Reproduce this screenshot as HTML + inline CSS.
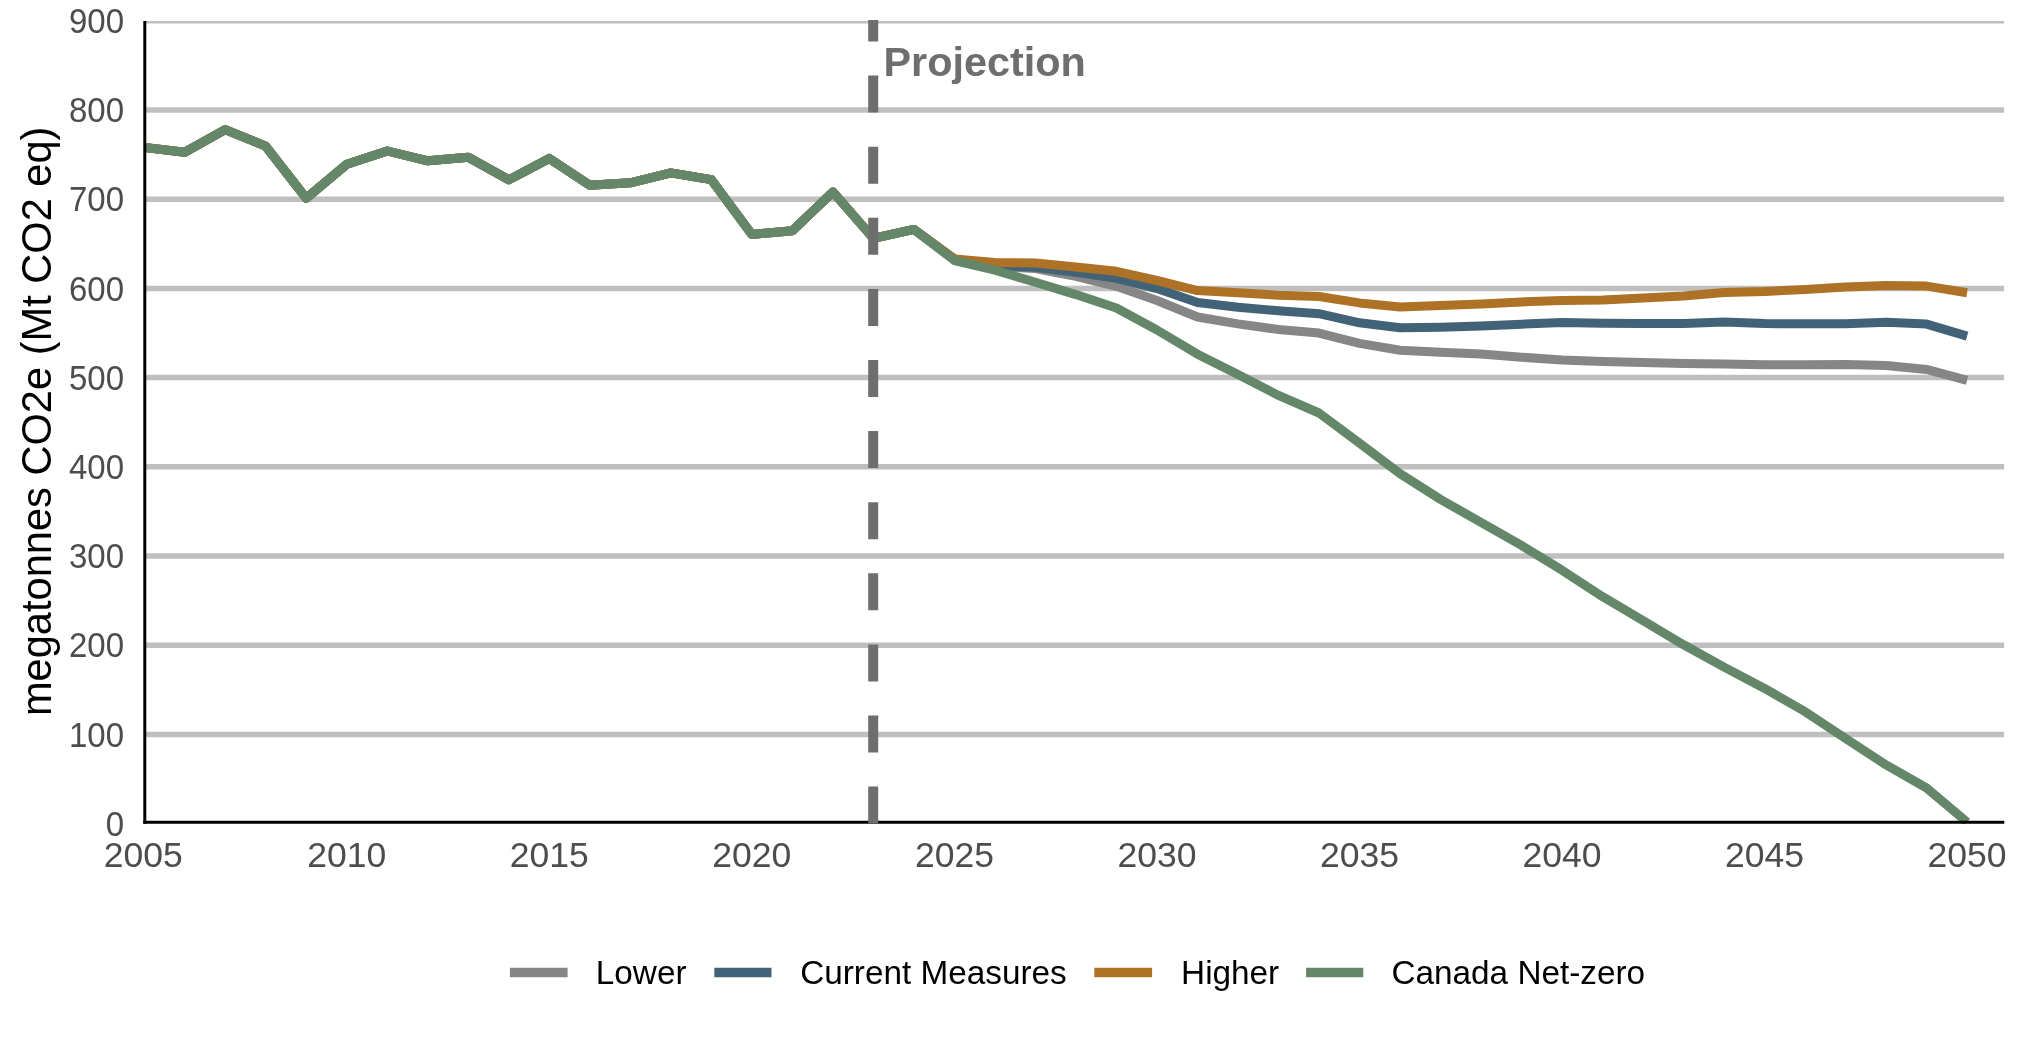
<!DOCTYPE html>
<html><head><meta charset="utf-8"><title>Chart</title>
<style>
html,body{margin:0;padding:0;background:#fff;}
body{width:2025px;height:1050px;overflow:hidden;}
svg{display:block;will-change:transform;}
text{font-family:"Liberation Sans",sans-serif;}
</style></head><body>
<svg width="2025" height="1050" viewBox="0 0 2025 1050">
<rect width="2025" height="1050" fill="#ffffff"/>
<defs>
<clipPath id="plot"><rect x="145" y="21" width="1859.3" height="803"/></clipPath>
</defs>

<g clip-path="url(#plot)" stroke="#BFBFBF" stroke-width="5.5">
<line x1="145" x2="2004.3" y1="734.40" y2="734.40"/>
<line x1="145" x2="2004.3" y1="645.20" y2="645.20"/>
<line x1="145" x2="2004.3" y1="556.00" y2="556.00"/>
<line x1="145" x2="2004.3" y1="466.80" y2="466.80"/>
<line x1="145" x2="2004.3" y1="377.60" y2="377.60"/>
<line x1="145" x2="2004.3" y1="288.40" y2="288.40"/>
<line x1="145" x2="2004.3" y1="199.20" y2="199.20"/>
<line x1="145" x2="2004.3" y1="110.00" y2="110.00"/>
<line x1="145" x2="2004.3" y1="20.80" y2="20.80"/>
</g>
<g clip-path="url(#plot)" fill="none" stroke-width="9" stroke-linejoin="round" stroke-linecap="butt">
<polyline stroke="#868686" points="144.2,147.4 184.7,152.3 225.2,129.6 265.7,146.2 306.2,198.2 346.8,164.2 387.3,151.0 427.8,160.8 468.3,157.3 508.8,179.8 549.3,158.4 589.8,185.2 630.3,182.8 670.8,172.9 711.3,179.6 751.8,234.4 792.4,230.8 832.9,191.9 873.4,238.4 913.9,229.4 954.4,259.2 994.9,266.5 1035.4,268.6 1075.9,276.4 1116.4,286.3 1157.0,300.5 1197.5,317.0 1238.0,323.9 1278.5,329.5 1319.0,333.1 1359.5,343.4 1400.0,350.3 1440.5,352.2 1481.0,354.0 1521.5,357.2 1562.0,360.1 1602.6,361.5 1643.1,362.5 1683.6,363.5 1724.1,364.1 1764.6,364.7 1805.1,364.7 1845.6,364.5 1886.1,365.5 1926.6,369.4 1967.1,380.3"/>
<polyline stroke="#426278" points="144.2,147.4 184.7,152.3 225.2,129.6 265.7,146.2 306.2,198.2 346.8,164.2 387.3,151.0 427.8,160.8 468.3,157.3 508.8,179.8 549.3,158.4 589.8,185.2 630.3,182.8 670.8,172.9 711.3,179.6 751.8,234.4 792.4,230.8 832.9,191.9 873.4,238.4 913.9,229.4 954.4,259.0 994.9,265.5 1035.4,267.2 1075.9,272.4 1116.4,278.4 1157.0,288.6 1197.5,302.5 1238.0,307.2 1278.5,310.8 1319.0,313.7 1359.5,322.8 1400.0,327.8 1440.5,327.2 1481.0,326.0 1521.5,324.2 1562.0,322.6 1602.6,323.2 1643.1,323.4 1683.6,323.6 1724.1,322.0 1764.6,323.6 1805.1,323.8 1845.6,323.8 1886.1,322.3 1926.6,324.1 1967.1,336.1"/>
<polyline stroke="#AE7227" points="144.2,147.4 184.7,152.3 225.2,129.6 265.7,146.2 306.2,198.2 346.8,164.2 387.3,151.0 427.8,160.8 468.3,157.3 508.8,179.8 549.3,158.4 589.8,185.2 630.3,182.8 670.8,172.9 711.3,179.6 751.8,234.4 792.4,230.8 832.9,191.9 873.4,238.4 913.9,229.4 954.4,259.1 994.9,262.6 1035.4,263.0 1075.9,267.1 1116.4,271.3 1157.0,280.5 1197.5,290.6 1238.0,292.8 1278.5,295.2 1319.0,296.5 1359.5,302.9 1400.0,307.0 1440.5,305.4 1481.0,304.0 1521.5,301.9 1562.0,300.4 1602.6,299.9 1643.1,297.9 1683.6,296.0 1724.1,292.4 1764.6,291.4 1805.1,289.4 1845.6,287.1 1886.1,285.5 1926.6,286.1 1967.1,292.7"/>
<polyline stroke="#638768" points="144.2,147.4 184.7,152.3 225.2,129.6 265.7,146.2 306.2,198.2 346.8,164.2 387.3,151.0 427.8,160.8 468.3,157.3 508.8,179.8 549.3,158.4 589.8,185.2 630.3,182.8 670.8,172.9 711.3,179.6 751.8,234.4 792.4,230.8 832.9,191.9 873.4,238.4 913.9,229.4 954.4,260.5 994.9,270.2 1035.4,282.3 1075.9,294.6 1116.4,308.0 1157.0,330.0 1197.5,354.2 1238.0,374.6 1278.5,395.4 1319.0,413.0 1359.5,443.2 1400.0,473.6 1440.5,499.4 1481.0,522.4 1521.5,545.4 1562.0,570.2 1602.6,596.7 1643.1,620.6 1683.6,644.8 1724.1,667.1 1764.6,688.4 1805.1,711.7 1845.6,738.4 1886.1,764.9 1926.6,788.0 1967.1,822.1"/>
</g>
<line x1="144.8" x2="144.8" y1="21" y2="823.7" stroke="#000" stroke-width="3"/>
<line x1="143.3" x2="2004.3" y1="822.2" y2="822.2" stroke="#000" stroke-width="3"/>
<line x1="873.2" x2="873.2" y1="823.6" y2="20" stroke="#6E6E6E" stroke-width="10" stroke-dasharray="37 34.1"/>
<text x="883.5" y="76.2" font-size="41.4" font-weight="bold" fill="#6E6E6E">Projection</text>
<g font-size="33" fill="#4D4D4D" text-anchor="end">
<text transform="translate(124.0,835.7) scale(1,1.045)">0</text>
<text transform="translate(124.0,746.5) scale(1,1.045)">100</text>
<text transform="translate(124.0,657.3) scale(1,1.045)">200</text>
<text transform="translate(124.0,568.1) scale(1,1.045)">300</text>
<text transform="translate(124.0,478.9) scale(1,1.045)">400</text>
<text transform="translate(124.0,389.7) scale(1,1.045)">500</text>
<text transform="translate(124.0,300.5) scale(1,1.045)">600</text>
<text transform="translate(124.0,211.3) scale(1,1.045)">700</text>
<text transform="translate(124.0,122.1) scale(1,1.045)">800</text>
<text transform="translate(124.0,32.9) scale(1,1.045)">900</text>
</g>
<g font-size="35.5" fill="#4D4D4D" text-anchor="middle">
<text x="143.2" y="867">2005</text>
<text x="346.8" y="867">2010</text>
<text x="549.3" y="867">2015</text>
<text x="751.8" y="867">2020</text>
<text x="954.4" y="867">2025</text>
<text x="1157.0" y="867">2030</text>
<text x="1359.5" y="867">2035</text>
<text x="1562.0" y="867">2040</text>
<text x="1764.6" y="867">2045</text>
<text x="1967.1" y="867">2050</text>
</g>
<text transform="translate(51.0,421.3) rotate(-90)" font-size="41.6" fill="#000" text-anchor="middle">megatonnes CO2e (Mt CO2 eq)</text>
<g font-size="33.3" fill="#000">
<line x1="509.9" x2="567.6" y1="972.5" y2="972.5" stroke="#868686" stroke-width="9.5"/>
<text x="595.8" y="983.9">Lower</text>
<line x1="714.3" x2="771.5" y1="972.5" y2="972.5" stroke="#426278" stroke-width="9.5"/>
<text x="800.2" y="983.9">Current Measures</text>
<line x1="1094.3" x2="1152.1" y1="972.5" y2="972.5" stroke="#AE7227" stroke-width="9.5"/>
<text x="1181.1" y="983.9">Higher</text>
<line x1="1306.1" x2="1363.3" y1="972.5" y2="972.5" stroke="#638768" stroke-width="9.5"/>
<text x="1391.5" y="983.9">Canada Net-zero</text>
</g>
</svg></body></html>
